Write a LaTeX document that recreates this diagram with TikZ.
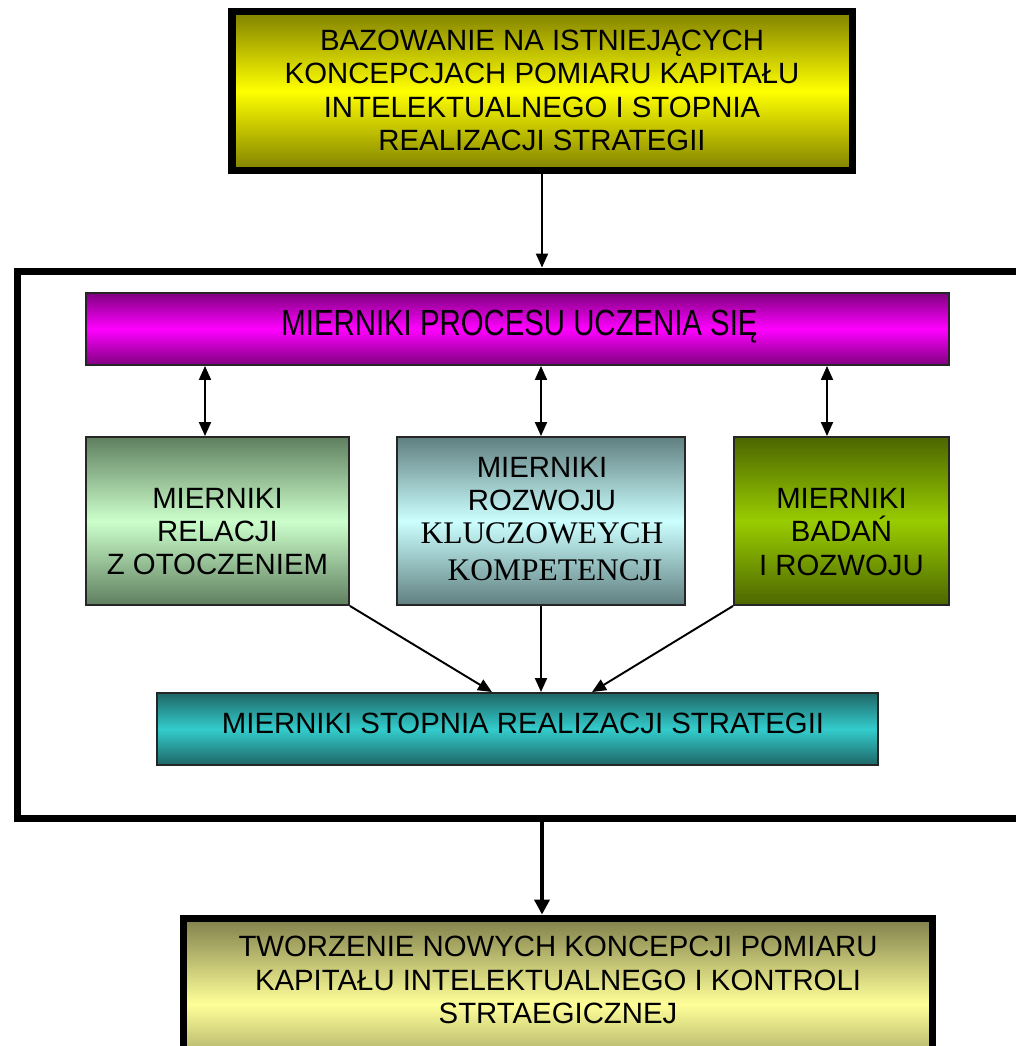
\documentclass[tikz,border=0pt]{standalone}
\usepackage{fontspec}
\setmainfont{Liberation Sans}
\newfontfamily\serifcaps{Liberation Serif}
\usetikzlibrary{arrows.meta}

\definecolor{oliveDark}{HTML}{808000}
\definecolor{yellowMid}{HTML}{FFFF00}
\definecolor{purpleDark}{HTML}{800080}
\definecolor{magentaMid}{HTML}{FF00FF}
\definecolor{greenDark}{HTML}{5F7F5F}
\definecolor{greenMid}{HTML}{CCFFCC}
\definecolor{cyanDark}{HTML}{607F80}
\definecolor{cyanMid}{HTML}{CCFFFF}
\definecolor{limeDark}{HTML}{4C6600}
\definecolor{limeMid}{HTML}{99CC00}
\definecolor{tealDark}{HTML}{1F6666}
\definecolor{tealMid}{HTML}{33CCCC}
\definecolor{sandDark}{HTML}{7F7F4C}
\definecolor{sandMid}{HTML}{FFFF99}

\tikzset{
  grad/.style 2 args={top color=#1, bottom color=#1, middle color=#2},
  thinbox/.style={rectangle, draw=black!85, line width=1.1pt, inner sep=0pt},
  heavybox/.style={rectangle, draw=black, line width=4.2pt, inner sep=0pt},
  txt/.style={align=center, inner sep=0pt, font=\fontsize{16.7}{19}\selectfont},
  link/.style={line width=1.1pt, -{Triangle[length=0.28cm,width=0.24cm]}},
  twoway/.style={line width=1.1pt, {Triangle[length=0.28cm,width=0.24cm]}-{Triangle[length=0.28cm,width=0.24cm]}},
  biglink/.style={line width=2.6pt, -{Triangle[length=0.3cm,width=0.3cm]}}
}

\begin{document}
\begin{tikzpicture}[x=0.02cm, y=-0.02cm]
  \fill[white] (0,0) rectangle (1016,1046);
  \useasboundingbox (0,0) rectangle (1016,1046);

  % source box
  \node[heavybox, grad={oliveDark}{yellowMid}, minimum width=12.41cm, minimum height=3.18cm] (top) at (542,91) {};
  \node[txt] (toptext) at (542,90.5) {BAZOWANIE NA ISTNIEJĄCYCH\\KONCEPCJACH POMIARU KAPITAŁU\\INTELEKTUALNEGO I STOPNIA\\REALIZACJI STRATEGII};

  % enclosing frame, open towards the right margin
  \node[rectangle, draw=black, line width=4pt, minimum width=21cm, minimum height=10.96cm] (frame) at (542,545) {};

  % learning-process measures (condensed, taller lettering)
  \node[thinbox, grad={purpleDark}{magentaMid}, minimum width=17.26cm, minimum height=1.44cm] (learn) at (517.5,329) {};
  \node[txt] (learntext) at (519.5,327) {\scalebox{1}[1.24]{MIERNIKI PROCESU UCZENIA SIĘ}};

  % three measure groups
  \node[thinbox, grad={greenDark}{greenMid}, minimum width=5.26cm, minimum height=3.36cm] (rel) at (217.5,521) {};
  \node[txt] (reltext) at (217.5,531.5) {MIERNIKI\\RELACJI\\Z OTOCZENIEM};

  \node[thinbox, grad={cyanDark}{cyanMid}, minimum width=5.76cm, minimum height=3.36cm] (comp) at (541,521) {};
  \node[txt] (comptext) at (542,519) {MIERNIKI\\ROZWOJU\\{\serifcaps\fontsize{17.9}{19}\selectfont KLUCZOWEYCH}\\[2pt]{\serifcaps\fontsize{17.9}{19}\selectfont\hspace*{15pt}KOMPETENCJI}};

  \node[thinbox, grad={limeDark}{limeMid}, minimum width=4.3cm, minimum height=3.36cm] (rnd) at (841.5,521) {};
  \node[txt] (rndtext) at (841.5,532) {MIERNIKI\\BADAŃ\\I ROZWOJU};

  % strategy measures
  \node[thinbox, grad={tealDark}{tealMid}, minimum width=14.42cm, minimum height=1.44cm] (strat) at (517.5,729) {};
  \node[txt] (strattext) at (523,723) {MIERNIKI STOPNIA REALIZACJI STRATEGII};

  % result box
  \node[heavybox, grad={sandDark}{sandMid}, minimum width=14.98cm, minimum height=3.43cm] (result) at (558,1004) {};
  \node[txt] (resulttext) at (558,980) {TWORZENIE NOWYCH KONCEPCJI POMIARU\\KAPITAŁU INTELEKTUALNEGO I KONTROLI\\STRTAEGICZNEJ};

  % connector columns
  \coordinate (colA) at (205,0);
  \coordinate (colB) at (541,0);
  \coordinate (colC) at (827,0);
  \coordinate (inA) at (492,0);
  \coordinate (inC) at (592,0);

  \draw[link] (top.south) -- (top.south |- frame.north);
  \draw[twoway] (learn.south -| colA) -- (rel.north -| colA);
  \draw[twoway] (learn.south -| colB) -- (comp.north -| colB);
  \draw[twoway] (learn.south -| colC) -- (rnd.north -| colC);
  \draw[link] (rel.south east) -- (strat.north -| inA);
  \draw[link] (comp.south) -- (strat.north -| comp.south);
  \draw[link] (rnd.south west) -- (strat.north -| inC);
  \draw[biglink] (frame.south) -- (frame.south |- result.north);
\end{tikzpicture}
\end{document}
